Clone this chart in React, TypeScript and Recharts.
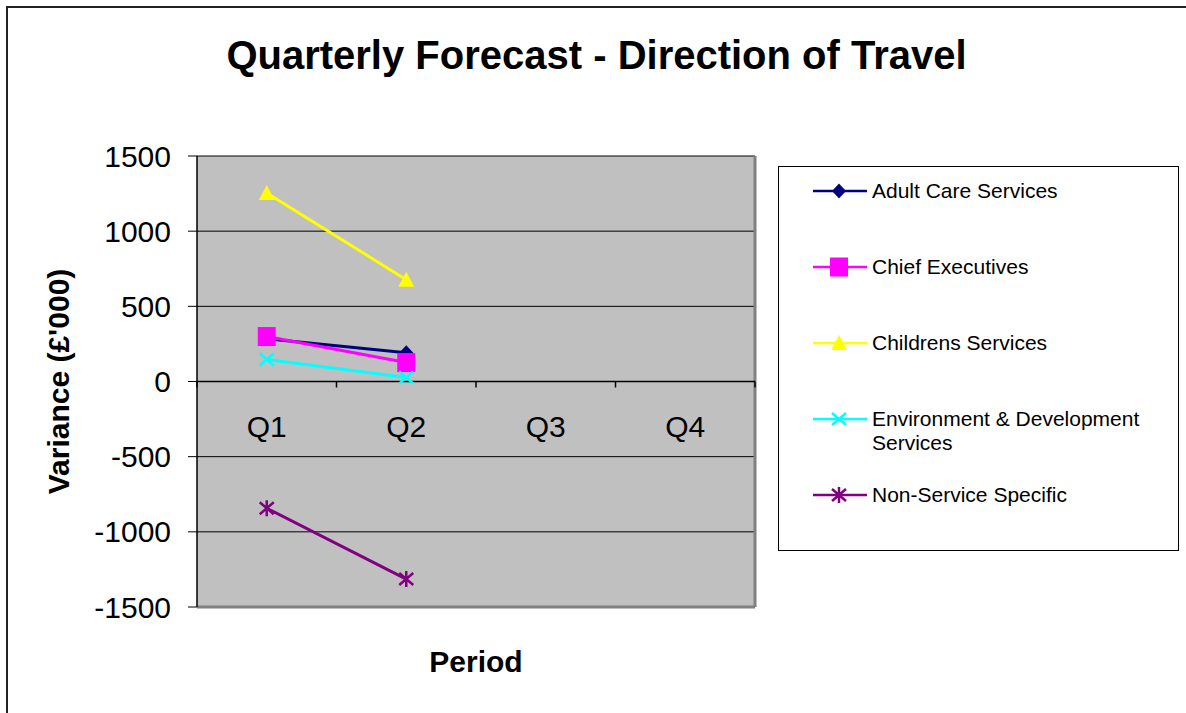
import React from 'react';
import { LineChart, Line, XAxis, YAxis, CartesianGrid, ReferenceLine, Label } from 'recharts';

const quarters = ['Q1', 'Q2', 'Q3', 'Q4'];
const adultCare = [285, 192, null, null];
const chiefExecutives = [299, 126, null, null];
const childrensServices = [1254, 677, null, null];
const environmentDev = [146, 27, null, null];
const nonServiceSpecific = [-843, -1314, null, null];
const yTicks = [-1500, -1000, -500, 0, 500, 1000, 1500];

const series = [
  { key: 'adult', name: 'Adult Care Services', color: '#000080', marker: 'diamond', values: adultCare },
  { key: 'chief', name: 'Chief Executives', color: '#FF00FF', marker: 'square', values: chiefExecutives },
  { key: 'child', name: 'Childrens Services', color: '#FFFF00', marker: 'triangle', values: childrensServices },
  { key: 'env', name: 'Environment & Development Services', color: '#00FFFF', marker: 'cross', values: environmentDev },
  { key: 'non', name: 'Non-Service Specific', color: '#800080', marker: 'star', values: nonServiceSpecific },
];

const data = quarters.map((q, i) => {
  const row: Record<string, any> = { q };
  series.forEach((s) => (row[s.key] = s.values[i]));
  return row;
});

const FONT = '"Liberation Sans", Arial, sans-serif';
const W = 1186;
const H = 713;
const M = { top: 156, right: 431, bottom: 105, left: 0 };
const PLOT_W = W - 197 - M.right;
const PLOT_H = H - M.top - M.bottom - 1;
const ZERO_Y = M.top + PLOT_H / 2;
const BW = PLOT_W / quarters.length;

function Marker({ type, cx, cy, color }: { type: string; cx: number; cy: number; color: string }) {
  switch (type) {
    case 'diamond':
      return <polygon points={`${cx},${cy - 7.5} ${cx + 7},${cy} ${cx},${cy + 7.5} ${cx - 7},${cy}`} fill={color} />;
    case 'square':
      return <rect x={cx - 9} y={cy - 9.5} width={18} height={19} fill={color} />;
    case 'triangle':
      return <polygon points={`${cx},${cy - 8} ${cx + 8},${cy + 7} ${cx - 8},${cy + 7}`} fill={color} />;
    case 'cross':
      return (
        <path
          d={`M${cx - 7},${cy - 6}L${cx + 7},${cy + 6}M${cx + 7},${cy - 6}L${cx - 7},${cy + 6}`}
          stroke={color}
          strokeWidth={2.5}
        />
      );
    default:
      return (
        <path
          d={`M${cx - 7},${cy - 6}L${cx + 7},${cy + 6}M${cx + 7},${cy - 6}L${cx - 7},${cy + 6}M${cx},${cy - 8}L${cx},${cy + 8}`}
          stroke={color}
          strokeWidth={2.5}
        />
      );
  }
}

function QuarterTick(props: any) {
  const { x, payload, index } = props;
  return (
    <g>
      <line x1={x - BW / 2} x2={x - BW / 2} y1={ZERO_Y} y2={ZERO_Y + 6} stroke="#000" strokeWidth={1.5} />
      {index === quarters.length - 1 && (
        <line x1={x + BW / 2} x2={x + BW / 2} y1={ZERO_Y} y2={ZERO_Y + 6} stroke="#000" strokeWidth={1.5} />
      )}
      <text x={x} y={ZERO_Y + 55} textAnchor="middle" fontSize={30} fontFamily={FONT} fill="#000">
        {payload.value}
      </text>
    </g>
  );
}

function LegendBox() {
  return (
    <div
      style={{
        position: 'absolute',
        left: 778,
        top: 166,
        width: 399,
        height: 371,
        border: '1px solid #000',
        background: '#fff',
        fontFamily: FONT,
        fontSize: 21,
        color: '#000',
        paddingTop: 12,
        boxSizing: 'content-box',
      }}
    >
      {series.map((s) => (
        <div key={s.key} style={{ display: 'flex', alignItems: 'flex-start', height: 76, paddingLeft: 34 }}>
          <svg width={59} height={24} style={{ flex: 'none' }}>
            <line x1={0} x2={54} y1={12} y2={12} stroke={s.color} strokeWidth={2.5} />
            <Marker type={s.marker} cx={26} cy={12} color={s.color} />
          </svg>
          <div style={{ width: 290, lineHeight: '24px', textAlign: 'left' }}>{s.name}</div>
        </div>
      ))}
    </div>
  );
}

export default function App() {
  return (
    <div style={{ position: 'absolute', left: 0, top: 0, width: W, height: H, overflow: 'hidden', background: '#fff' }}>
      <div
        style={{
          position: 'absolute',
          left: 6,
          top: 6,
          width: W + 20,
          height: H + 20,
          borderLeft: '2px solid #222',
          borderTop: '2px solid #222',
        }}
      />
      <div
        style={{
          position: 'absolute',
          left: 0,
          width: 1193,
          top: 35,
          textAlign: 'center',
          fontFamily: FONT,
          fontWeight: 'bold',
          fontSize: 40,
          lineHeight: '40px',
          color: '#000',
        }}
      >
        Quarterly Forecast - Direction of Travel
      </div>
      <div style={{ position: 'absolute', left: 0, top: 0 }}>
        <LineChart width={W} height={H} data={data} margin={M}>
          <CartesianGrid horizontal vertical={false} stroke="#000" strokeWidth={1} fill="#C0C0C0" fillOpacity={1} />
          <XAxis
            dataKey="q"
            scale="band"
            height={1}
            axisLine={false}
            tickLine={false}
            tick={<QuarterTick />}
            interval={0}
          >
            <Label
              content={(p: any) => (
                <text
                  x={p.viewBox.x + p.viewBox.width / 2}
                  y={672}
                  textAnchor="middle"
                  fontSize={30}
                  fontWeight="bold"
                  fontFamily={FONT}
                  fill="#000"
                >
                  Period
                </text>
              )}
            />
          </XAxis>
          <YAxis
            width={197}
            domain={[-1500, 1500]}
            ticks={yTicks}
            interval={0}
            axisLine={{ stroke: '#000', strokeWidth: 1.5 }}
            tickLine={{ stroke: '#000', strokeWidth: 1 }}
            tickSize={9}
            tickMargin={17}
            tick={{ fontSize: 30, fill: '#000', fontFamily: FONT }}
          >
            <Label
              content={(p: any) => {
                const cx = 69;
                const cy = p.viewBox.y + p.viewBox.height / 2;
                return (
                  <text
                    x={cx}
                    y={cy}
                    transform={`rotate(-90 ${cx} ${cy})`}
                    textAnchor="middle"
                    fontSize={30}
                    fontWeight="bold"
                    fontFamily={FONT}
                    fill="#000"
                  >
                    Variance (£'000)
                  </text>
                );
              }}
            />
          </YAxis>
          <ReferenceLine x="Q4" position="end" stroke="#808080" strokeWidth={3} />
          <ReferenceLine y={-1500} stroke="#808080" strokeWidth={3} />
          <ReferenceLine y={0} stroke="#000" strokeWidth={1.5} />
          {series.map((s) => (
            <Line
              key={s.key}
              dataKey={s.key}
              name={s.name}
              stroke={s.color}
              strokeWidth={3}
              isAnimationActive={false}
              dot={(p: any) =>
                p.value == null || p.cy == null ? (
                  <g key={p.key ?? `${s.key}-${p.index}`} />
                ) : (
                  <g key={p.key ?? `${s.key}-${p.index}`}>
                    <Marker type={s.marker} cx={p.cx} cy={p.cy} color={s.color} />
                  </g>
                )
              }
              activeDot={false}
              legendType="line"
            />
          ))}
        </LineChart>
      </div>
      <LegendBox />
    </div>
  );
}
